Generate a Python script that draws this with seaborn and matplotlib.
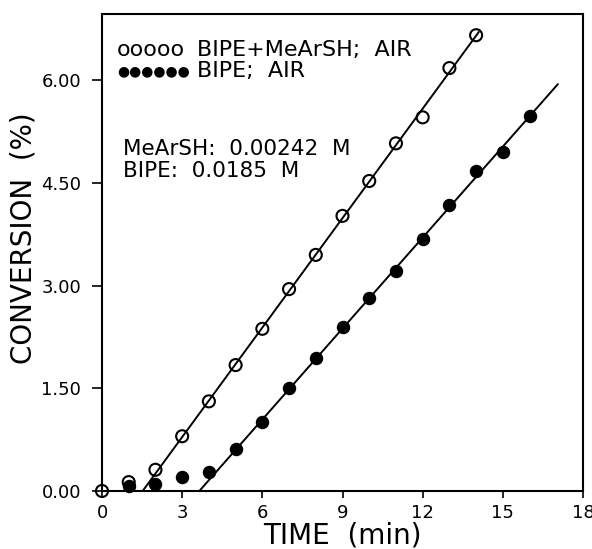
import numpy as np
import pandas as pd
import matplotlib
matplotlib.use("Agg")
import matplotlib.pyplot as plt
import seaborn as sns

# data
time_open = [0, 1, 2, 3, 4, 5, 6, 7, 8, 9, 10, 11, 12, 13, 14]
conv_open = [0.00, 0.13, 0.31, 0.80, 1.31, 1.84, 2.37, 2.95, 3.45, 4.02,
             4.53, 5.08, 5.46, 6.18, 6.66]
time_fill = [1, 2, 3, 4, 5, 6, 7, 8, 9, 10, 11, 12, 13, 14, 15, 16]
conv_fill = [0.07, 0.10, 0.21, 0.28, 0.61, 1.01, 1.50, 1.95, 2.39, 2.82,
             3.21, 3.68, 4.18, 4.67, 4.96, 5.48]
# linear part used for the drawn fit lines, and where each line stops
fit_start = [3, 5]
fit_end = [14.1, 17.06]

x_ticks = [0, 3, 6, 9, 12, 15, 18]
y_ticks = [0.0, 1.5, 3.0, 4.5, 6.0]

sns.set_style("ticks")
plt.rcParams['font.family'] = ['DejaVu Sans']
plt.rcParams['text.color'] = 'black'
plt.rcParams['axes.labelcolor'] = 'black'

fig = plt.figure(figsize=(5.92, 5.49), dpi=100)
ax = fig.add_axes([102 / 592, 1 - 491 / 549, 481 / 592, 477 / 549])

df_open = pd.DataFrame({'t': time_open, 'c': conv_open})
df_fill = pd.DataFrame({'t': time_fill, 'c': conv_fill})

# fit lines from x-intercept to end point
for df, t0, t1 in [(df_open, fit_start[0], fit_end[0]), (df_fill, fit_start[1], fit_end[1])]:
    sub = df[df['t'] >= t0]
    k, b = np.polyfit(sub['t'], sub['c'], 1)
    xs = np.array([-b / k, t1])
    line = pd.DataFrame({'t': xs, 'c': k * xs + b})
    sns.lineplot(data=line, x='t', y='c', color='black', lw=1.4, ax=ax, zorder=2)

sns.scatterplot(data=df_fill, x='t', y='c', marker='o', s=75, color='black',
                edgecolor='black', linewidth=1, ax=ax, zorder=2, clip_on=False)
sns.scatterplot(data=df_open, x='t', y='c', marker='o', s=75, facecolor='none',
                edgecolor='black', linewidth=1.5, ax=ax, zorder=2, clip_on=False)

ax.set_xlim(0, 18)
ax.set_ylim(0, 6.97)
ax.set_xticks(x_ticks)
ax.set_yticks(y_ticks)
ax.set_yticklabels([f"{v:.2f}" for v in y_ticks])
ax.tick_params(direction='out', width=1.2, labelsize=13, colors='black')
ax.tick_params(axis='y', length=7, pad=8)
ax.tick_params(axis='x', length=5, pad=4)
for s in ax.spines.values():
    s.set_linewidth(1.5)
    s.set_color('black')

ax.set_xlabel("TIME  (min)", fontsize=20, labelpad=0)
ax.set_ylabel("CONVERSION  (%)", fontsize=20)
ax.yaxis.set_label_coords(-0.135, 0.53)

# hand-made key, as in the original
ax.text(0.031, 0.925, "ooooo", transform=ax.transAxes, fontsize=16, va='center')
ax.text(0.198, 0.925, "BIPE+MeArSH;  AIR", transform=ax.transAxes, fontsize=16, va='center')
ax.text(0.031, 0.880, "●●●●●●", transform=ax.transAxes, fontsize=10, va='center')
ax.text(0.198, 0.880, "BIPE;  AIR", transform=ax.transAxes, fontsize=16, va='center')
ax.text(0.044, 0.694, "MeArSH:  0.00242  M\nBIPE:  0.0185  M", transform=ax.transAxes,
        fontsize=15.5, va='center', linespacing=1.1)

fig.savefig("out.png", dpi=100)
